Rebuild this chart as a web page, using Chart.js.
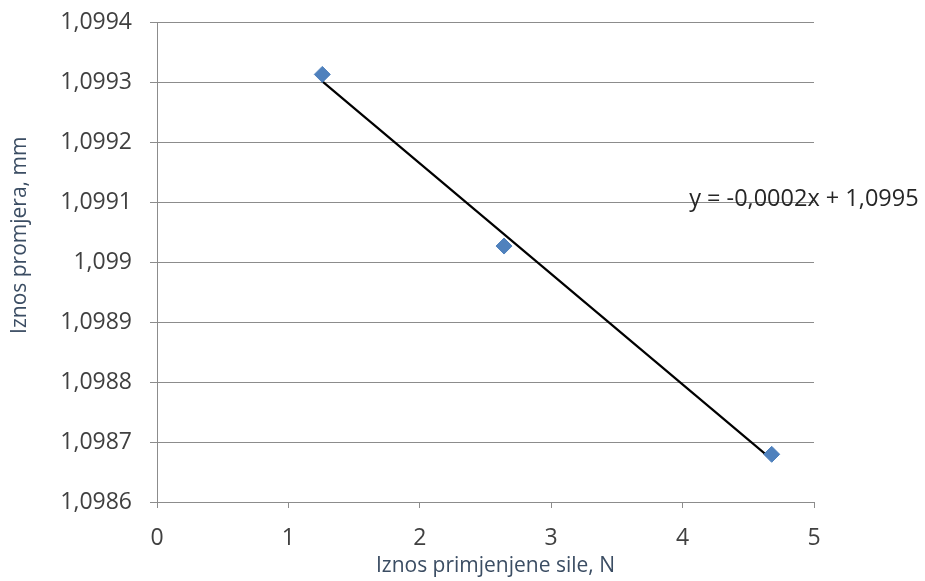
<!DOCTYPE html>
<html>
<head>
<meta charset="utf-8">
<script src="https://cdn.jsdelivr.net/npm/chart.js@4"></script>
<style>
html,body{margin:0;padding:0;background:#fff;}
#wrap{width:925px;height:581px;position:relative;}
</style>
</head>
<body>
<div id="wrap"><canvas id="c" width="925" height="581"></canvas></div>
<script>
// Data
const forceN = [1.258, 2.641, 4.678];
const diameterMm = [1.0993136, 1.0990271, 1.0986796];
// Linear trendline end points (as drawn)
const trendX = [1.258, 4.678];
const trendY = [1.099302, 1.098671];
const trendLabel = 'y = -0,0002x + 1,0995';
const xTitle = 'Iznos primjenjene sile, N';
const yTitle = 'Iznos promjera, mm';

const FONT = '"Open Sans", "Liberation Sans", sans-serif';
const tickColor = '#404040';
const gridColor = '#8c8c8c';
const titleColor = '#3b4d63';

const points = forceN.map((x, i) => ({x: x, y: diameterMm[i]}));
const trend = trendX.map((x, i) => ({x: x, y: trendY[i]}));

const textPlugin = {
  id: 'texts',
  afterDatasetsDraw(chart) {
    const ctx = chart.ctx;
    const xs = chart.scales.x, ys = chart.scales.y;
    const a = chart.chartArea;
    ctx.save();
    // trendline equation
    ctx.font = '23.5px ' + FONT;
    ctx.fillStyle = '#262626';
    ctx.textBaseline = 'middle';
    ctx.textAlign = 'left';
    ctx.fillText(trendLabel, xs.getPixelForValue(4.05), ys.getPixelForValue(1.09910) - 3);
    // axis titles
    ctx.font = '21px ' + FONT;
    ctx.fillStyle = titleColor;
    ctx.textAlign = 'center';
    ctx.fillText(xTitle, (a.left + a.right) / 2 + 10, a.bottom + 64);
    ctx.translate(20, (a.top + a.bottom) / 2 - 27);
    ctx.rotate(-Math.PI / 2);
    ctx.fillText(yTitle, 0, 0);
    ctx.restore();
  }
};

new Chart(document.getElementById('c'), {
  type: 'scatter',
  data: {
    datasets: [
      {
        label: 'Trend',
        type: 'line',
        data: trend,
        borderColor: '#000000',
        borderWidth: 2.2,
        pointRadius: 0,
        fill: false,
        order: 2
      },
      {
        label: 'Mjerenja',
        data: points,
        pointStyle: 'rectRot',
        pointRadius: 8,
        backgroundColor: '#4f81bd',
        borderColor: '#4f81bd',
        borderWidth: 1,
        order: 1
      }
    ]
  },
  options: {
    responsive: false,
    animation: false,
    devicePixelRatio: 1,
    layout: {padding: {left: 0, right: 111, top: 2, bottom: 0}},
    plugins: {legend: {display: false}, tooltip: {enabled: false}},
    scales: {
      x: {
        type: 'linear',
        min: 0, max: 5,
        ticks: {stepSize: 1, color: tickColor, font: {family: FONT, size: 23}, padding: 17},
        grid: {drawOnChartArea: false, drawTicks: true, tickLength: 6, color: gridColor},
        border: {color: gridColor, width: 1},
        afterFit(s) { s.height = 79; }
      },
      y: {
        type: 'linear',
        min: 1.0986, max: 1.0994,
        ticks: {
          stepSize: 0.0001, color: tickColor, font: {family: FONT, size: 23, lineHeight: 0.4}, padding: 18,
          callback: v => String(parseFloat(Number(v).toFixed(4))).replace('.', ',')
        },
        grid: {color: gridColor, tickLength: 7, lineWidth: 1},
        border: {color: gridColor, width: 1},
        afterFit(s) { s.width = 157; }
      }
    }
  },
  plugins: [textPlugin]
});
</script>
</body>
</html>
